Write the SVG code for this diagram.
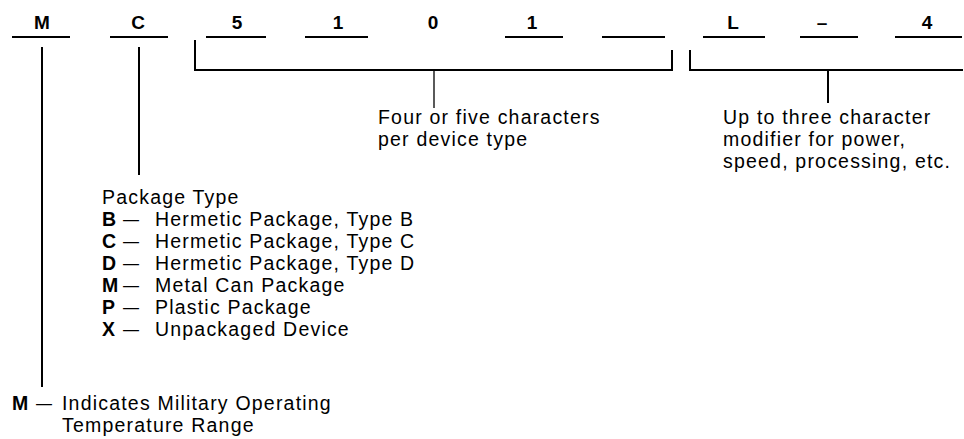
<svg xmlns="http://www.w3.org/2000/svg" width="964" height="439" viewBox="0 0 964 439">
<style>
  text { font-family: "Liberation Sans", Arial, sans-serif; fill: #000; }
  .code { font-size: 19px; font-weight: bold; text-anchor: middle; }
  .lbl { font-size: 19.5px; letter-spacing: 1.2px; }
  .b { font-weight: bold; letter-spacing: 0; }
  .d { font-size: 16px; letter-spacing: 0; }
  .ul { stroke: #000; stroke-width: 2; fill: none; }
  .ln { stroke: #000; stroke-width: 2; fill: none; }
  .thin { stroke: #000; stroke-width: 1.3; fill: none; }
</style>
<rect width="964" height="439" fill="#fff"/>
<g id="code">
  <g id="c-M"><text class="code" x="42" y="29">M</text><line class="ul" x1="12" y1="37" x2="70" y2="37"/></g>
  <g id="c-C"><text class="code" x="138" y="29">C</text><line class="ul" x1="110" y1="37" x2="168" y2="37"/></g>
  <g id="c-5"><text class="code" x="237" y="29">5</text><line class="ul" x1="206" y1="37" x2="266" y2="37"/></g>
  <g id="c-1a"><text class="code" x="338" y="29">1</text><line class="ul" x1="305" y1="37" x2="368" y2="37"/></g>
  <g id="c-0"><text class="code" x="433" y="29">0</text></g>
  <g id="c-1b"><text class="code" x="532" y="29">1</text><line class="ul" x1="505" y1="37" x2="563" y2="37"/></g>
  <g id="c-blank"><line class="ul" x1="602" y1="37" x2="665" y2="37"/></g>
  <g id="c-L"><text class="code" x="733" y="29">L</text><line class="ul" x1="703" y1="37" x2="765" y2="37"/></g>
  <g id="c-dash"><text class="code" x="822" y="29">–</text><line class="ul" x1="800" y1="37" x2="858" y2="37"/></g>
  <g id="c-4"><text class="code" x="927" y="29">4</text><line class="ul" x1="895" y1="37" x2="962" y2="37"/></g>
</g>
<g id="connectors">
  <line class="ln" x1="42" y1="47" x2="42" y2="387"/>
  <line class="ln" x1="139" y1="47" x2="139" y2="175"/>
  <polyline class="ln" points="195,40 195,70 672,70 672,50"/>
  <line class="thin" x1="434" y1="70" x2="434" y2="108"/>
  <polyline class="ln" points="690,50 690,70 963,70"/>
  <line class="ln" x1="828" y1="70" x2="828" y2="103"/>
</g>
<g id="label-device">
  <text class="lbl" x="378" y="124">Four or five characters</text>
  <text class="lbl" x="378" y="146">per device type</text>
</g>
<g id="label-modifier">
  <text class="lbl" x="723" y="124">Up to three character</text>
  <text class="lbl" x="723" y="146">modifier for power,</text>
  <text class="lbl" x="723" y="168">speed, processing, etc.</text>
</g>
<g id="label-package">
  <text class="lbl" x="102" y="204">Package Type</text>
  <text class="lbl" x="102" y="226"><tspan class="b">B</tspan><tspan class="d" x="123" y="225">—</tspan><tspan x="155" y="226">Hermetic Package, Type B</tspan></text>
  <text class="lbl" x="102" y="248"><tspan class="b">C</tspan><tspan class="d" x="123" y="247">—</tspan><tspan x="155" y="248">Hermetic Package, Type C</tspan></text>
  <text class="lbl" x="102" y="270"><tspan class="b">D</tspan><tspan class="d" x="123" y="269">—</tspan><tspan x="155" y="270">Hermetic Package, Type D</tspan></text>
  <text class="lbl" x="102" y="292"><tspan class="b">M</tspan><tspan class="d" x="123" y="291">—</tspan><tspan x="155" y="292">Metal Can Package</tspan></text>
  <text class="lbl" x="102" y="314"><tspan class="b">P</tspan><tspan class="d" x="123" y="313">—</tspan><tspan x="155" y="314">Plastic Package</tspan></text>
  <text class="lbl" x="102" y="336"><tspan class="b">X</tspan><tspan class="d" x="123" y="335">—</tspan><tspan x="155" y="336">Unpackaged Device</tspan></text>
</g>
<g id="label-military">
  <text class="lbl" x="12" y="410"><tspan class="b">M</tspan><tspan class="d" x="36" y="409">—</tspan><tspan x="62" y="410">Indicates Military Operating</tspan></text>
  <text class="lbl" x="62" y="432">Temperature Range</text>
</g>
</svg>
